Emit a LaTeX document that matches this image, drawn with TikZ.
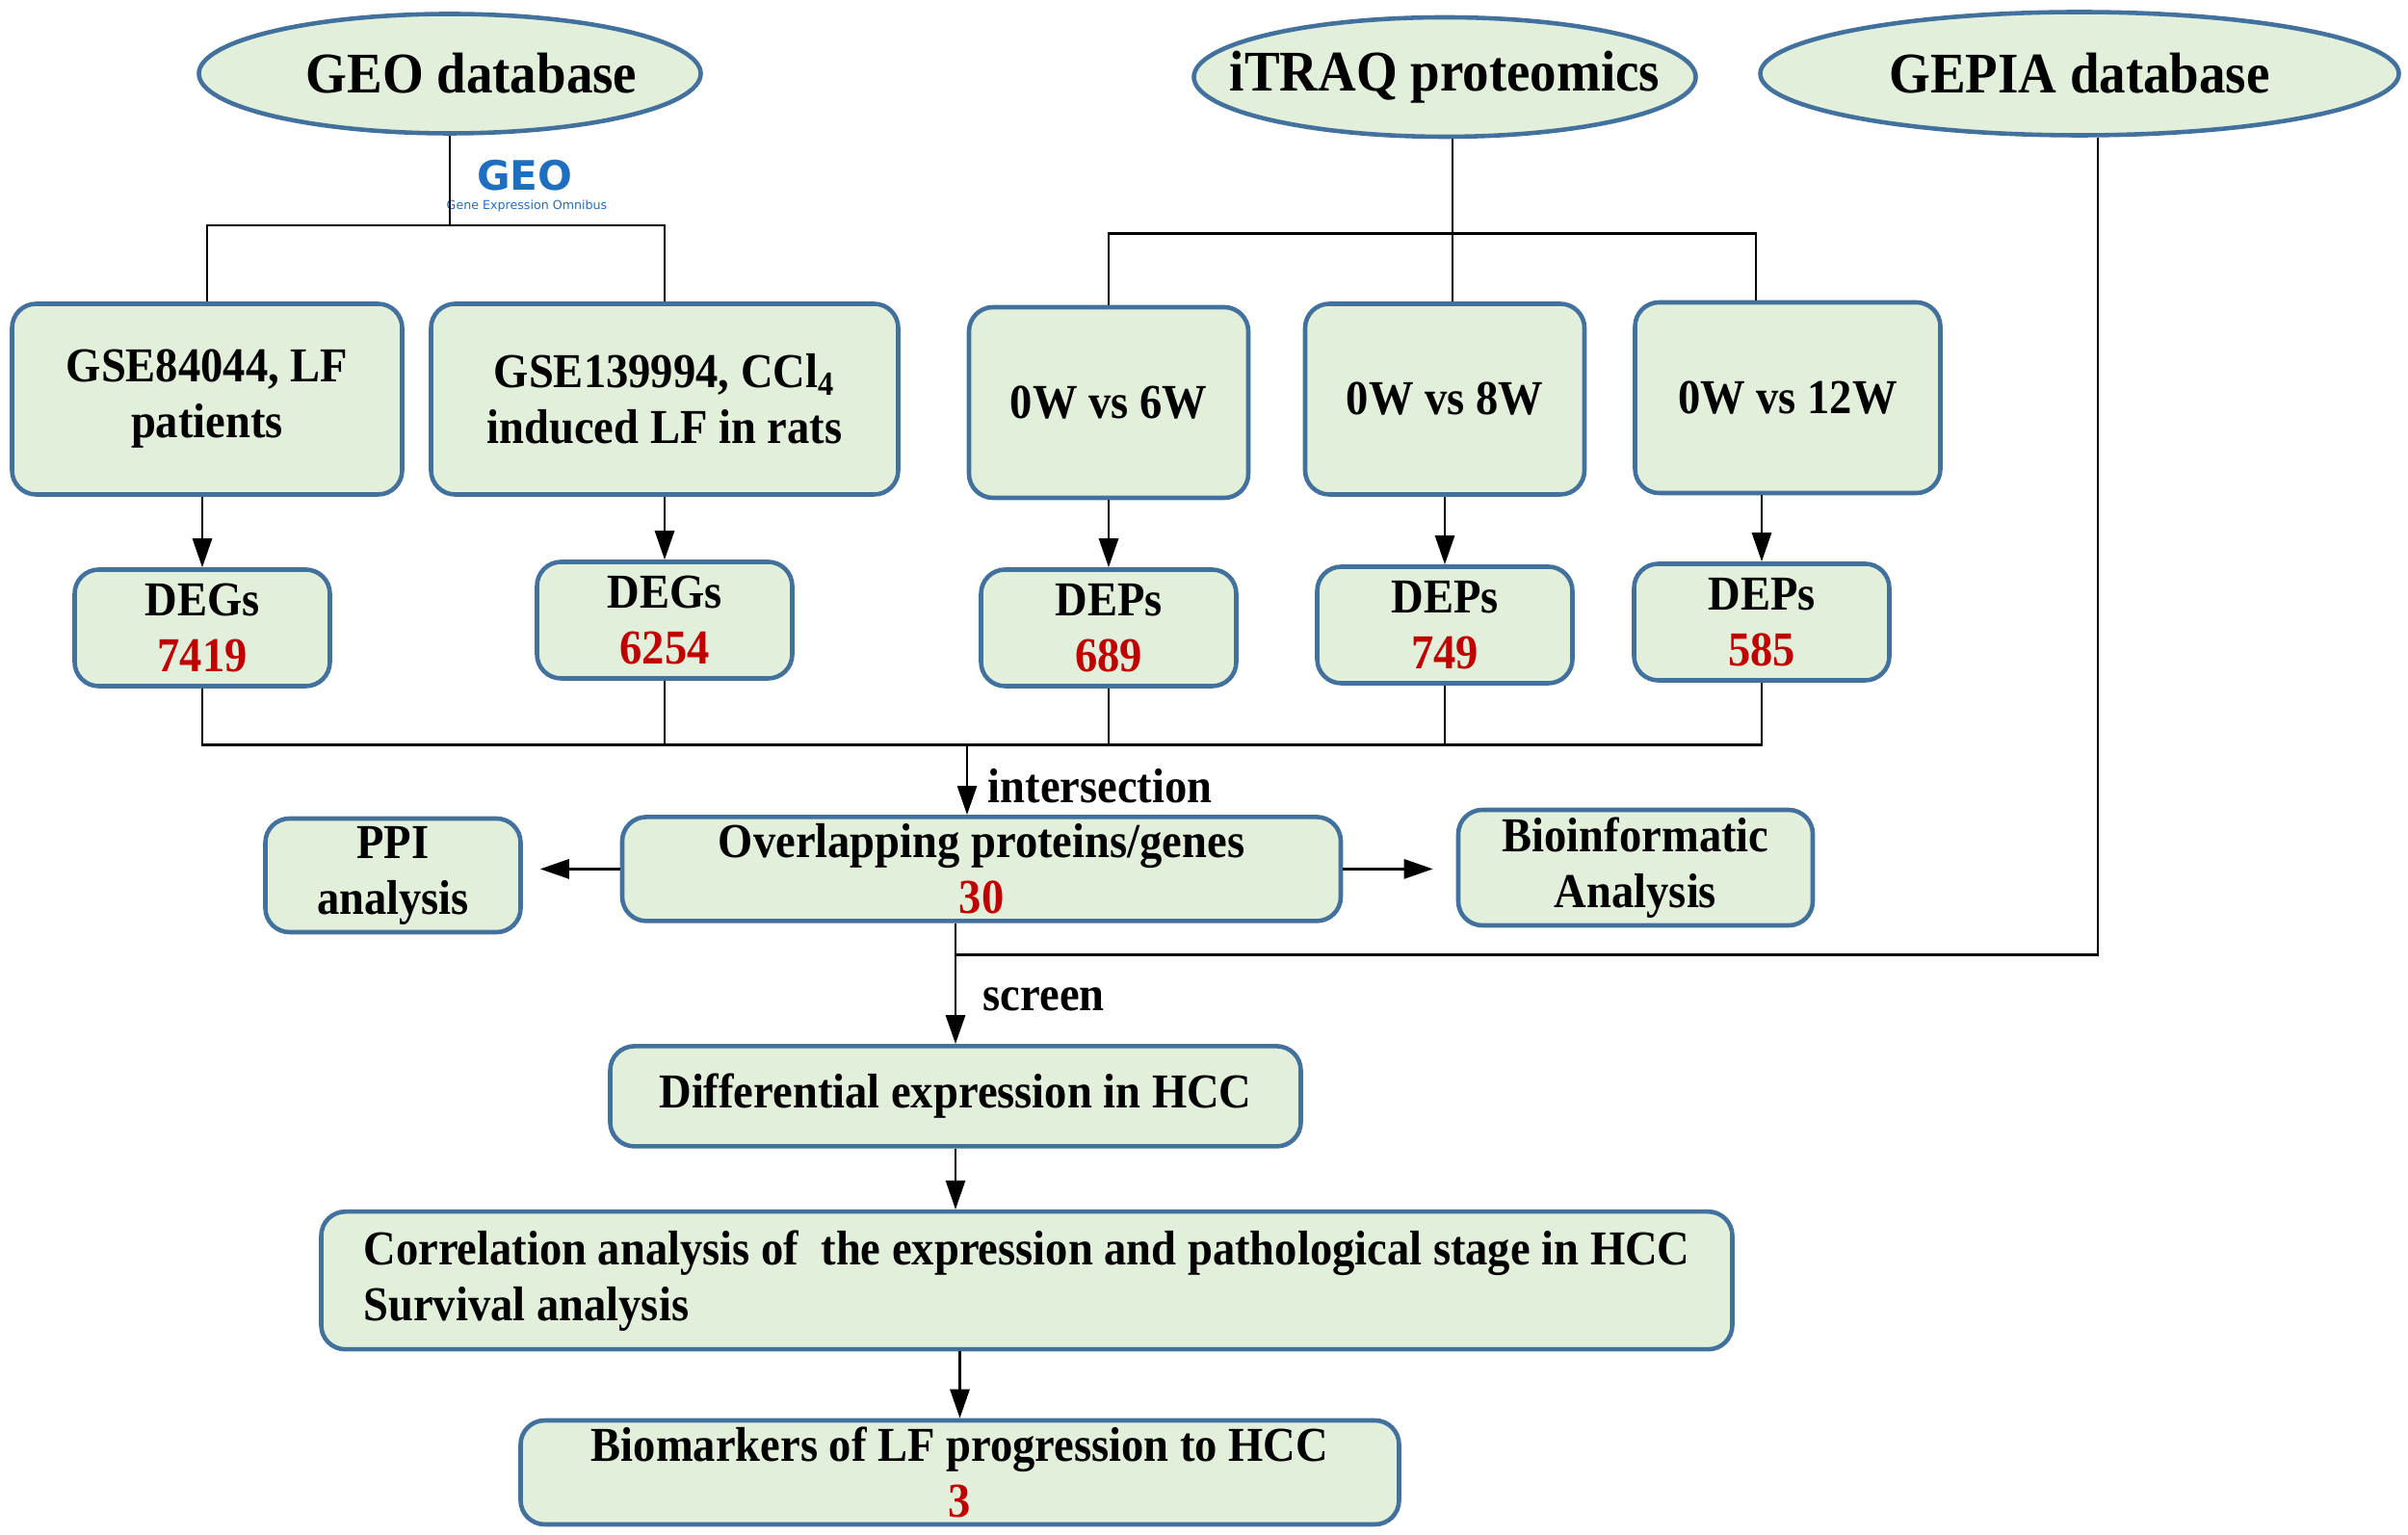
\documentclass[tikz,border=0pt]{standalone}
\usepackage{fontspec}
\setmainfont[FakeStretch=0.92]{Liberation Serif}
\newfontfamily\logofont{DejaVu Sans}
\usetikzlibrary{shapes.geometric,arrows.meta}
\definecolor{boxfill}{HTML}{E2EFDA}
\definecolor{boxline}{HTML}{41719C}
\definecolor{numred}{HTML}{C00000}
\definecolor{geoblue}{HTML}{1F6FC0}
\newcommand{\rednum}[1]{\textcolor{numred}{#1}}
\begin{document}
\begin{tikzpicture}[
	box/.style={rectangle,rounded corners=0.25cm,draw=boxline,fill=boxfill,
		line width=1.3pt,inner sep=0pt,align=center,
		font=\bfseries\fontsize{14.4}{16.5}\selectfont},
	oval/.style={ellipse,draw=boxline,fill=boxfill,line width=1.3pt,
		inner sep=0pt,label={[font=\bfseries\fontsize{17}{20}\selectfont]center:#1}},
	link/.style={line width=0.8pt},
	arr/.style={line width=0.8pt,-{Triangle[length=0.3cm,width=0.2cm]}},
	lbl/.style={anchor=west,inner sep=0pt,font=\bfseries\fontsize{14.4}{16.5}\selectfont}]
	\useasboundingbox (0,0) rectangle (25,15.93);
	% sources
	\node[oval={\hspace*{0.45cm}GEO database},minimum width=5.21cm,minimum height=1.24cm]
		(geo) at (4.67,15.165) {};
	\node[oval={iTRAQ proteomics},minimum width=5.21cm,minimum height=1.24cm]
		(itraq) at (15.00,15.13) {};
	\node[oval={GEPIA database},minimum width=6.63cm,minimum height=1.28cm]
		(gepia) at (21.59,15.165) {};
	% GEO logo
	\node[inner sep=0pt,text=geoblue,font=\logofont\bfseries\fontsize{12}{12}\selectfont]
		(logo) at (5.45,14.11) {GEO};
	\node[inner sep=0pt,text=geoblue,font=\logofont\fontsize{3.6}{4}\selectfont]
		(logotext) at (5.47,13.79) {Gene Expression Omnibus};
	% data sets
	\node[box,minimum width=4.05cm,minimum height=1.98cm] (b1) at (2.15,11.785)
		{GSE84044, LF\\patients};
	\node[box,minimum width=4.85cm,minimum height=1.98cm] (b2) at (6.90,11.785)
		{GSE139994, CCl\textsubscript{4}\\induced LF in rats};
	\node[box,minimum width=2.90cm,minimum height=1.98cm] (b3) at (11.51,11.75)
		{0W vs 6W};
	\node[box,minimum width=2.90cm,minimum height=1.98cm] (b4) at (15.00,11.785)
		{0W vs 8W};
	\node[box,minimum width=3.17cm,minimum height=1.98cm] (b5) at (18.56,11.80)
		{0W vs 12W};
	% counts
	\node[box,minimum width=2.65cm,minimum height=1.21cm] (d1) at (2.10,9.41)
		{DEGs\\\rednum{7419}};
	\node[box,minimum width=2.65cm,minimum height=1.21cm] (d2) at (6.90,9.49)
		{DEGs\\\rednum{6254}};
	\node[box,minimum width=2.65cm,minimum height=1.21cm] (d3) at (11.51,9.41)
		{DEPs\\\rednum{689}};
	\node[box,minimum width=2.65cm,minimum height=1.21cm] (d4) at (15.00,9.44)
		{DEPs\\\rednum{749}};
	\node[box,minimum width=2.65cm,minimum height=1.21cm] (d5) at (18.29,9.47)
		{DEPs\\\rednum{585}};
	% overlap
	\node[box,minimum width=7.46cm,minimum height=1.08cm] (ov) at (10.19,6.906)
		{Overlapping proteins/genes\\\rednum{30}};
	\node[box,minimum width=2.65cm,minimum height=1.18cm] (ppi) at (4.08,6.84)
		{PPI\\analysis};
	\node[box,minimum width=3.68cm,minimum height=1.20cm] (bio) at (16.98,6.92)
		{Bioinformatic\\Analysis};
	% HCC steps
	\node[box,minimum width=7.17cm,minimum height=1.04cm] (diff) at (9.92,4.546)
		{Differential expression in HCC};
	\node[box,minimum width=14.65cm,minimum height=1.43cm,align=left] (corr) at (10.66,2.633)
		{Correlation analysis of~ the expression and pathological stage in HCC\\Survival analysis};
	\node[box,minimum width=9.12cm,minimum height=1.08cm] (mark) at (9.965,0.64)
		{Biomarkers of LF progression to HCC\\\rednum{3}};
	% connectors
	\coordinate (geobus) at (4.67,13.59);
	\coordinate (itbus) at (15.08,13.506);
	\coordinate (bus) at (10.04,8.197);
	\coordinate (gebus) at (21.78,6.013);
	\draw[link] (geo.south) -- (geobus);
	\draw[link] (b1.north) |- (geobus) -| (b2.north);
	\draw[link] (itraq.south -| itbus) -- (b4.north -| itbus);
	\draw[link] (b3.north) |- (itbus) -| ([xshift=-0.33cm]b5.north);
	\foreach \n in {1,...,5}
		\draw[arr] (b\n.south -| d\n.north) -- (d\n.north);
	\draw[link] (d1.south) -- (d1.south |- bus) -- (d5.south |- bus) -- (d5.south);
	\foreach \n in {2,3,4}
		\draw[link] (d\n.south) -- (d\n.south |- bus);
	\draw[arr] (bus) -- (bus |- ov.north);
	\node[lbl] (inter) at (10.25,7.77) {intersection};
	\draw[arr,shorten >=0.18cm] (ov.west) -- (ov.west -| ppi.east);
	\draw[arr,shorten >=0.24cm] (ov.east) -- (ov.east -| bio.west);
	\draw[link] (gepia.south -| gebus) -- (gebus) -- (gebus -| diff.north);
	\draw[arr] (ov.south -| diff.north) -- (diff.north);
	\node[lbl] (scr) at (10.20,5.55) {screen};
	\draw[arr] (diff.south) -- (diff.south |- corr.north);
	\draw[arr] (corr.south -| mark.north) -- (mark.north);
\end{tikzpicture}
\end{document}
